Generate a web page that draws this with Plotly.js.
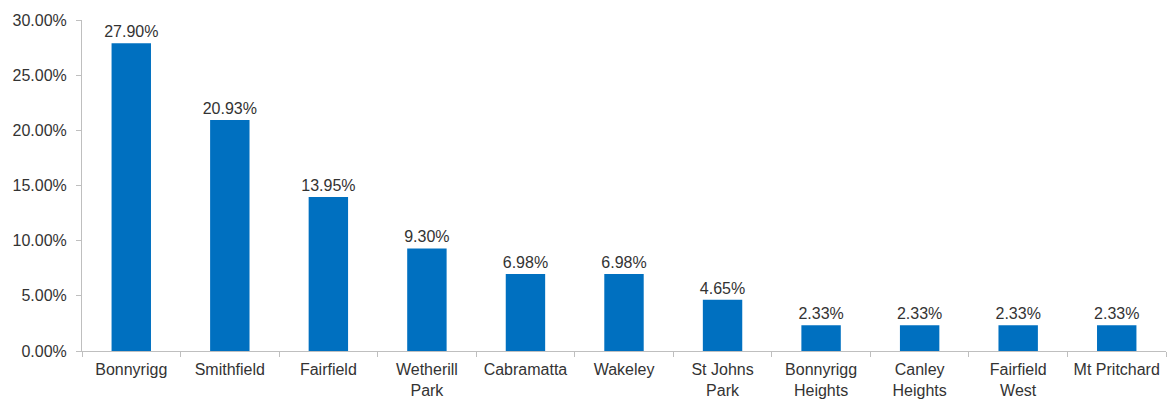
<!DOCTYPE html>
<html>
<head>
<meta charset="utf-8">
<script src="https://cdn.plot.ly/plotly-3.0.1.min.js"></script>
<style>html,body{margin:0;padding:0;background:#fff;}#chart{width:1170px;height:401px;}</style>
</head>
<body>
<div id="chart"></div>
<script>
var categories = ["Bonnyrigg", "Smithfield", "Fairfield", "Wetherill<br>Park", "Cabramatta", "Wakeley", "St Johns<br>Park", "Bonnyrigg<br>Heights", "Canley<br>Heights", "Fairfield<br>West", "Mt Pritchard"];
var values = [27.90, 20.93, 13.95, 9.30, 6.98, 6.98, 4.65, 2.33, 2.33, 2.33, 2.33];
var tickValues = [0, 5, 10, 15, 20, 25, 30];

var trace = {
  type: 'bar',
  x: categories,
  y: values,
  marker: {color: '#0070C0', line: {width: 0}},
  text: values.map(function(v){return v.toFixed(2) + '%';}),
  textposition: 'outside',
  constraintext: 'none',
  textfont: {family: 'Liberation Sans, Arial, sans-serif', size: 16, color: '#333333'},
  cliponaxis: false,
  hoverinfo: 'none'
};

var layout = {
  width: 1170, height: 401,
  margin: {l: 82, r: 4, t: 20, b: 50, pad: 0},
  paper_bgcolor: '#fff', plot_bgcolor: '#fff',
  showlegend: false,
  bargap: 0.6,
  font: {family: 'Liberation Sans, Arial, sans-serif', size: 16, color: '#333333'},
  xaxis: {
    type: 'category',
    showline: true, linecolor: '#bfbfbf', linewidth: 1,
    ticks: 'outside', tickson: 'boundaries', ticklen: 5, tickcolor: '#bfbfbf',
    showgrid: false, zeroline: false,
    tickfont: {size: 16, color: '#333333'},
    ticklabelstandoff: 4,
    tickangle: 0
  },
  yaxis: {
    range: [0, 30],
    tickvals: tickValues,
    ticktext: tickValues.map(function(v){return v.toFixed(2) + '%';}),
    showline: true, linecolor: '#bfbfbf', linewidth: 1,
    ticks: 'outside', ticklen: 5, tickcolor: '#bfbfbf',
    showgrid: false, zeroline: false,
    ticklabelstandoff: 6,
    tickfont: {size: 16, color: '#333333'}
  }
};

Plotly.newPlot('chart', [trace], layout, {displayModeBar: false, staticPlot: true});
</script>
</body>
</html>
